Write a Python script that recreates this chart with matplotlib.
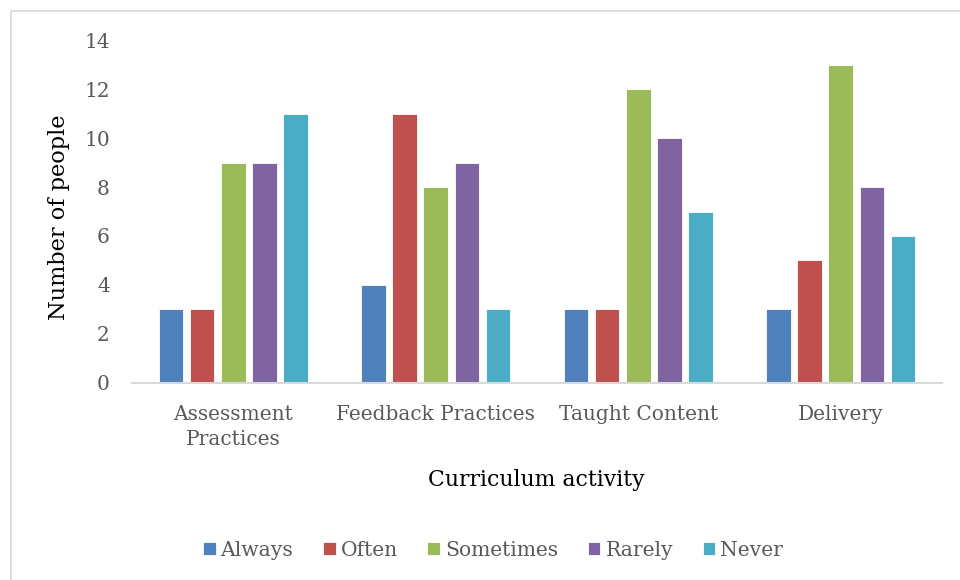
import numpy as np
import matplotlib.pyplot as plt
from matplotlib.patches import Rectangle

categories = ["Assessment\nPractices", "Feedback Practices", "Taught Content", "Delivery"]
series = ["Always", "Often", "Sometimes", "Rarely", "Never"]
always = [3, 4, 3, 3]
often = [3, 11, 3, 5]
sometimes = [9, 8, 12, 13]
rarely = [9, 9, 10, 8]
never = [11, 3, 7, 6]
y_ticks = [0, 2, 4, 6, 8, 10, 12, 14]

colors = ["#4F81BD", "#C0504D", "#9BBB59", "#8064A2", "#4BACC6"]
plt.rcParams["font.family"] = ["DejaVu Serif"]

fig = plt.figure(figsize=(9.6, 5.8), dpi=100)
ax = fig.add_axes([132 / 960, 1 - 382.5 / 580, (942 - 132) / 960, (382.5 - 40.5) / 580])

# outer chart frame (only top and left edges show in the reference)
fig.patches.append(Rectangle((10.5 / 960, -0.1), 1.2, 1 - 11 / 580 + 0.1,
                             transform=fig.transFigure, fill=False,
                             edgecolor="#D9D9D9", linewidth=1.2))

x = np.arange(len(categories))
width = 0.121
step = 0.154
values = [always, often, sometimes, rarely, never]
for i, (name, vals) in enumerate(zip(series, values)):
    ax.bar(x + (i - 2) * step, vals, width, color=colors[i], label=name,
           edgecolor="white", linewidth=0.6)

ax.set_xlim(-0.5, len(categories) - 0.5)
ax.set_ylim(0, 14)
ax.set_yticks(y_ticks)
ax.set_xticks(x)
ax.set_xticklabels(categories, linespacing=1.45)
ax.tick_params(axis="both", length=0, colors="#595959", labelsize=14.5)
ax.tick_params(axis="y", pad=16)
ax.tick_params(axis="x", pad=16)
for s in ["top", "right", "left"]:
    ax.spines[s].set_visible(False)
ax.spines["bottom"].set_color("#D9D9D9")
ax.spines["bottom"].set_linewidth(1.5)

fig.text(59 / 960, 1 - 217 / 580, "Number of people", rotation=90,
         ha="center", va="center", fontsize=16.2, color="black")
fig.text(536 / 960, 1 - 480 / 580, "Curriculum activity",
         ha="center", va="center", fontsize=15.8, color="black")

leg = fig.legend(loc="center", bbox_to_anchor=(493 / 960, 1 - 550 / 580), ncol=5,
                 frameon=False, fontsize=14.6, handlelength=0.63, handleheight=0.63,
                 handletextpad=0.25, columnspacing=1.45)
for t in leg.get_texts():
    t.set_color("#595959")

fig.savefig("out.png", dpi=100)
